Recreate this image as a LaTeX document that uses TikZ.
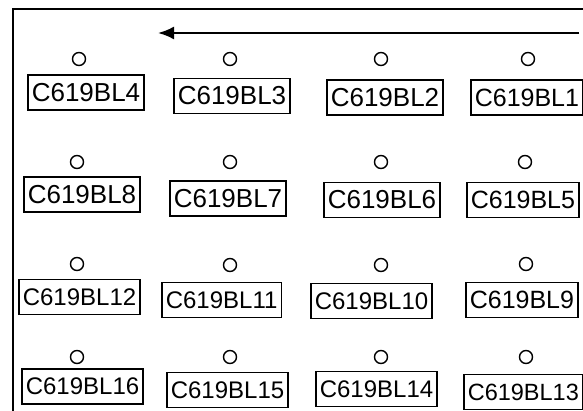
\documentclass[tikz,border=0pt]{standalone}
\usepackage{fontspec}
\setmainfont{Liberation Sans}
\usetikzlibrary{arrows.meta}
\tikzset{
  lbl/.style={draw, line width=1.6pt, anchor=west, inner xsep=4pt, inner ysep=0pt,
    minimum height=35pt, font=\fontsize{26}{30}\selectfont},
  lblr/.style={lbl, font=\fontsize{25}{29}\selectfont},
  lblw/.style={lbl, font=\fontsize{24}{28}\selectfont},
  hole/.style={draw, circle, line width=1.4pt, minimum size=13pt, inner sep=0pt},
  frame/.style={line width=2pt},
}
\begin{document}
\begin{tikzpicture}[x=1pt,y=-1pt]
\useasboundingbox (0,0) rectangle (583,411);
\begin{scope}
\clip (0,0) rectangle (583,411);
\coordinate (fbl) at (12.5,420);
\coordinate (ftl) at (12.5,9.5);
\coordinate (ftr) at (590,9.5);
\draw[frame] (fbl) -- (ftl) -- (ftr);
\coordinate (as) at (579,33);
\coordinate (ae) at (158,33);
\draw[line width=2.2pt, -{Latex[length=16pt,width=13pt]}] (as) -- (ae);
% row 1
\node[hole] (h4) at (79,59) {};
\node[hole] (h3) at (230,59) {};
\node[hole] (h2) at (381,59) {};
\node[hole] (h1) at (528,59) {};
\node[lbl] (b4) at (27,92.5) {C619BL4};
\node[lbl] (b3) at (173,96) {C619BL3};
\node[lbl] (b2) at (326,97.5) {C619BL2};
\node[lblr] (b1) at (470,97.5) {C619BL1};
% row 2
\node[hole] (h8) at (77,162) {};
\node[hole] (h7) at (230,162) {};
\node[hole] (h6) at (381,162) {};
\node[hole] (h5) at (525,162) {};
\node[lbl] (b8) at (23,194.5) {C619BL8};
\node[lbl] (b7) at (169,198.5) {C619BL7};
\node[lbl] (b6) at (323,200) {C619BL6};
\node[lblr] (b5) at (466,200) {C619BL5};
% row 3
\node[hole] (h12) at (77,264) {};
\node[hole] (h11) at (230,265) {};
\node[hole] (h10) at (381,265) {};
\node[hole] (h9) at (526,264) {};
\node[lblw] (b12) at (18,297) {C619BL12};
\node[lblw] (b11) at (161,300) {C619BL11};
\node[lblw] (b10) at (310,301) {C619BL10};
\node[lblr] (b9) at (465,300) {C619BL9};
% row 4
\node[hole] (h16) at (77,357) {};
\node[hole] (h15) at (230,357) {};
\node[hole] (h14) at (381,357) {};
\node[hole] (h13) at (526,357) {};
\node[lblw] (b16) at (21,386.5) {C619BL16};
\node[lblw] (b15) at (166,390) {C619BL15};
\node[lblw] (b14) at (315,389) {C619BL14};
\node[lblw, font=\fontsize{23.5}{28}\selectfont] (b13) at (463,392) {C619BL13};
\end{scope}
\end{tikzpicture}
\end{document}
